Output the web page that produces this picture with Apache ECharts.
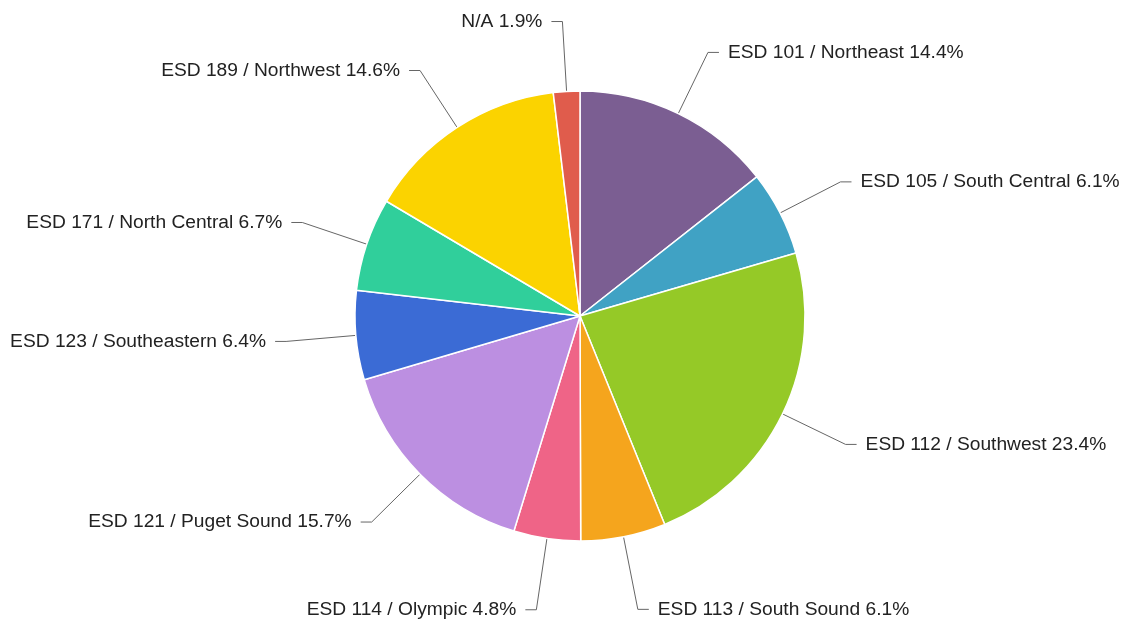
<!DOCTYPE html>
<html>
<head>
<meta charset="utf-8">
<script src="https://cdn.jsdelivr.net/npm/echarts@6/dist/echarts.min.js"></script>
<style>
html,body{margin:0;padding:0;background:#fff;}
#chart{width:1125px;height:622px;}
</style>
</head>
<body>
<div id="chart"></div>
<script>
const categories = [
  "ESD 101 / Northeast",
  "ESD 105 / South Central",
  "ESD 112 / Southwest",
  "ESD 113 / South Sound",
  "ESD 114 / Olympic",
  "ESD 121 / Puget Sound",
  "ESD 123 / Southeastern",
  "ESD 171 / North Central",
  "ESD 189 / Northwest",
  "N/A"
];
const values = [14.4, 6.1, 23.4, 6.1, 4.8, 15.7, 6.4, 6.7, 14.6, 1.9];
const colors = ["#7b5e92", "#40a2c4", "#95c927", "#f5a51d", "#ef6487", "#bc8fe1", "#3b6bd5", "#30cf9b", "#fbd300", "#e05c4c"];
const leaderLengths = [68, 68, 70, 74, 72, 68, 70, 68, 68, 70];

const chart = echarts.init(document.getElementById('chart'));
chart.setOption({
  animation: false,
  backgroundColor: '#fff',
  series: [{
    type: 'pie',
    center: [580, 316],
    radius: [0, 225],
    startAngle: 90,
    clockwise: true,
    avoidLabelOverlap: false,
    data: categories.map((c, i) => ({
      name: c, value: values[i],
      itemStyle: { color: colors[i] },
      labelLine: { length: leaderLengths[i] }
    })),
    itemStyle: { borderColor: '#fff', borderWidth: 1.5 },
    label: {
      show: true,
      formatter: p => p.name + ' ' + p.value.toFixed(1) + '%',
      fontFamily: 'Liberation Sans, Arial, sans-serif',
      fontSize: 19.2,
      color: '#222',
      distanceToLabelLine: 9
    },
    labelLine: {
      show: true,
      length: 68,
      length2: 11,
      lineStyle: { color: '#666', width: 1 }
    },
    emphasis: { disabled: true }
  }]
});
</script>
</body>
</html>
